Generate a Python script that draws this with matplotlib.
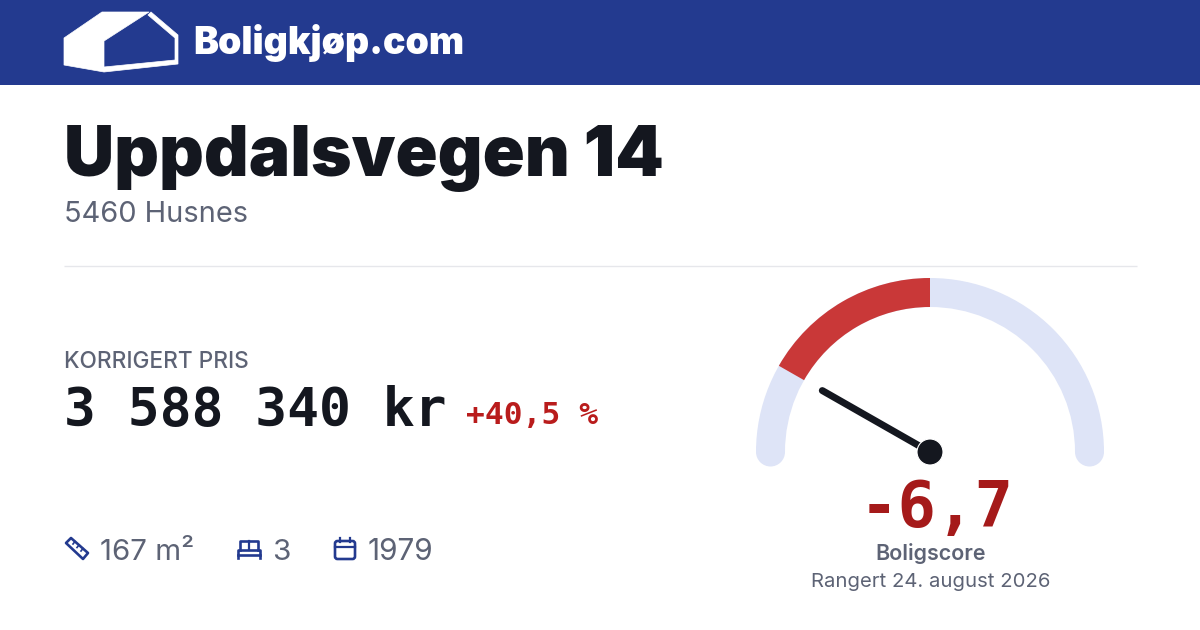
import numpy as np
import matplotlib
matplotlib.use("Agg")
import matplotlib.pyplot as plt
from matplotlib.patches import Wedge, Circle, Polygon, Rectangle, FancyBboxPatch

brand = "Boligkjøp.com"
street = "Uppdalsvegen 14"
city = "5460 Husnes"
price_label = "KORRIGERT PRIS"
price = "3 588 340 kr"
change = "+40,5 %"
area = "167 m²"
rooms = "3"
year = "1979"
score_label = "-6,7"
score_name = "Boligscore"
ranked = "Rangert 24. august 2026"

score = -6.7
score_min = -10
score_max = 10

BLUE = "#233a8f"
DARK = "#14171f"
GREY = "#5d6375"
RED = "#b91c1c"
DEEP_RED = "#a51a1a"
ARC = "#dee4f7"
ARC_RED = "#c93838"

plt.rcParams["font.family"] = ["Inter", "DejaVu Sans"]


def to_angle(v):
    return 180 - (v - score_min) / (score_max - score_min) * 180


fig = plt.figure(figsize=(12, 6.3), dpi=100, facecolor="white")
# axes in pixels, y pointing down
ax = fig.add_axes([0, 0, 1, 1])
ax.set_xlim(0, 1200)
ax.set_ylim(630, 0)
ax.axis("off")

# header
ax.add_patch(Rectangle((0, 0), 1200, 85, color=BLUE, lw=0))
ax.add_patch(Polygon([(64, 38), (102, 12), (149, 12), (104, 41), (104, 67), (175, 60),
                      (175, 38), (148, 15), (151, 12), (178, 35), (178, 64), (104, 72), (64, 65)],
                     closed=True, fc="white", ec="white", lw=0.5, joinstyle="round"))
ax.text(193, 54, brand, color="white", fontsize=26.9, fontweight="black", va="baseline", ha="left")

# address
ax.text(64, 176.5, street, color=DARK, fontsize=50, fontweight="black", va="baseline", ha="left")
ax.text(64, 222, city, color=GREY, fontsize=20.9, va="baseline", ha="left")
ax.plot([64, 1137], [266, 266], color="#e6e7eb", lw=1, solid_capstyle="butt")

# price
ax.text(64, 368, price_label, color=GREY, fontsize=16.3, fontweight="medium", va="baseline", ha="left")
ax.text(64, 426, price, color=DARK, fontsize=38.2, family=["DejaVu Sans Mono"], fontweight="bold",
        va="baseline", ha="left")
ax.text(466, 424, change, color=RED, fontsize=22.5, family=["DejaVu Sans Mono"], fontweight="bold",
        va="baseline", ha="left")

# ruler icon
ax.add_patch(Polygon([(66, 543), (71, 538), (88, 553), (83, 559)], closed=True, fc="none",
                     ec=BLUE, lw=1.9, joinstyle="round"))
for x0, y0, x1, y1 in [(75, 541.5, 73, 544), (79, 545, 77, 547.5), (83, 548.5, 81, 551)]:
    ax.plot([x0, x1], [y0, y1], color=BLUE, lw=1.2)
ax.text(100, 560, area, color=GREY, fontsize=21.3, va="baseline", ha="left")

# bed icon
ax.plot([238, 238, 260, 260], [558, 550, 550, 558], color=BLUE, lw=1.9)
ax.plot([238, 260], [554.5, 554.5], color=BLUE, lw=1.9)
ax.plot([240, 240, 258, 258], [550, 541, 541, 550], color=BLUE, lw=1.9)
ax.plot([249, 249], [541, 550], color=BLUE, lw=1.6)
ax.text(272, 560, rooms, color=GREY, fontsize=21.3, va="baseline", ha="left")

# calendar icon
ax.add_patch(FancyBboxPatch((335, 541), 20, 18, boxstyle="round,pad=0,rounding_size=2.5",
                            fc="none", ec=BLUE, lw=1.9))
ax.plot([335, 355], [547, 547], color=BLUE, lw=1.6)
ax.plot([340, 340], [538, 542], color=BLUE, lw=1.6)
ax.plot([350, 350], [538, 542], color=BLUE, lw=1.6)
ax.text(368, 560, year, color=GREY, fontsize=21.5, va="baseline", ha="left")

# gauge, y axis is flipped so angles are negated
cx, cy = 930, 452
r_out, r_in = 174, 145
ax.add_patch(Wedge((cx, cy), r_out, -180, 0, width=r_out - r_in, fc=ARC, lw=0))
r_mid = (r_out + r_in) / 2
for a in (to_angle(score_min), to_angle(score_max)):
    ax.add_patch(Circle((cx + r_mid * np.cos(np.radians(a)), cy), (r_out - r_in) / 2, fc=ARC, lw=0))
ax.add_patch(Wedge((cx, cy), r_out, -to_angle(score), -to_angle(0), width=r_out - r_in, fc=ARC_RED, lw=0))

a = np.radians(to_angle(score))
ax.plot([cx, cx + 124 * np.cos(a)], [cy, cy - 124 * np.sin(a)], color=DARK, lw=5,
        solid_capstyle="round")
ax.add_patch(Circle((cx, cy), 13, fc=DARK, ec="white", lw=0.8, zorder=5))

ax.text(936.5, 527, score_label, color=DEEP_RED, fontsize=46, family=["DejaVu Sans Mono"],
        fontweight="bold", va="baseline", ha="center")
ax.text(931, 553, score_name, color=GREY, fontsize=15.5, fontweight="semibold", va="center", ha="center")
ax.text(931, 582, ranked, color=GREY, fontsize=14.6, va="center", ha="center")

fig.savefig("out.png", dpi=100, facecolor="white")
